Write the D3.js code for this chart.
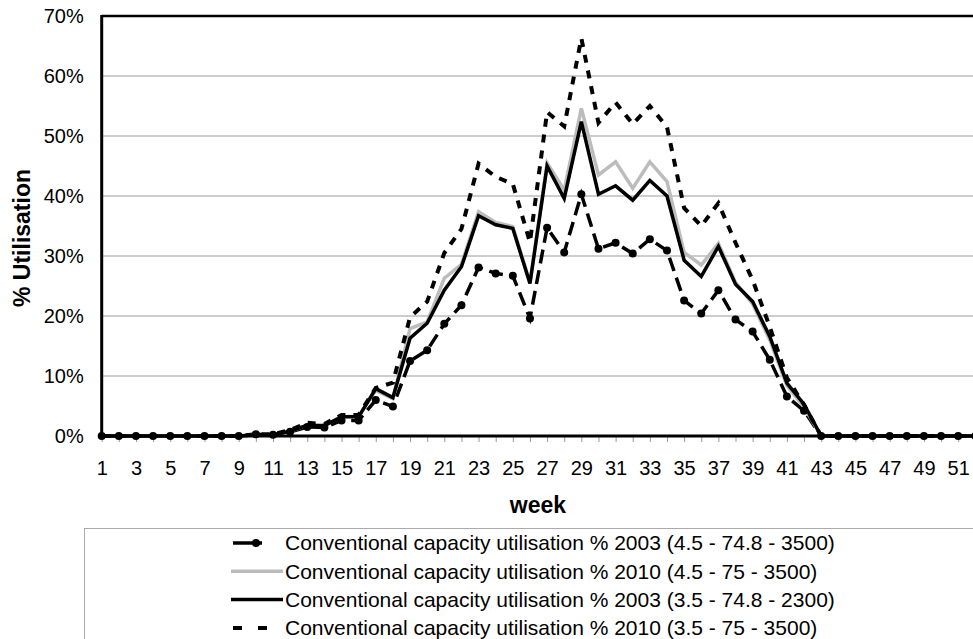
<!DOCTYPE html>
<html>
  <head>
    <style>
      body {
        margin: 0;
        background: #fff;
      }
      svg text {
        font-family: "Liberation Sans", Arial, sans-serif;
        fill: #000;
      }
    </style>
    <script src="https://cdn.jsdelivr.net/npm/d3@7"></script>
  </head>
  <body>
    <script>
      const weeks = [
        1, 2, 3, 4, 5, 6, 7, 8, 9, 10, 11, 12, 13, 14, 15, 16, 17, 18, 19, 20,
        21, 22, 23, 24, 25, 26, 27, 28, 29, 30, 31, 32, 33, 34, 35, 36, 37, 38,
        39, 40, 41, 42, 43, 44, 45, 46, 47, 48, 49, 50, 51, 52,
      ];
      const yTicks = [0, 10, 20, 30, 40, 50, 60, 70];

      // % utilisation per week
      const util2003a = [
        0, 0, 0, 0, 0, 0, 0, 0, 0, 0.3, 0.2, 0.7, 1.5, 1.4, 2.6, 2.6, 6.0, 4.9,
        12.5, 14.3, 18.7, 21.8, 28.1, 27.1, 26.7, 19.6, 34.7, 30.6, 40.3, 31.2,
        32.2, 30.4, 32.8, 30.9, 22.6, 20.4, 24.3, 19.4, 17.4, 12.7, 6.6, 4.2,
        0, 0, 0, 0, 0, 0, 0, 0, 0, 0,
      ];
      const util2010a = [
        0, 0, 0, 0, 0, 0, 0, 0, 0, 0.2, 0.2, 0.8, 1.8, 1.8, 3.2, 3.3, 7.6, 6.2,
        17.9, 19.0, 26.3, 28.6, 37.4, 35.6, 34.9, 25.6, 45.5, 41.0, 54.6, 43.5,
        45.7, 41.3, 45.7, 42.4, 30.6, 28.5, 32.1, 25.6, 22.0, 16.0, 8.4, 4.8,
        0, 0, 0, 0, 0, 0, 0, 0, 0, 0,
      ];
      const util2003b = [
        0, 0, 0, 0, 0, 0, 0, 0, 0, 0.2, 0.2, 0.8, 1.8, 1.7, 3.2, 3.2, 7.9, 6.4,
        16.3, 18.8, 24.3, 28.2, 36.7, 35.2, 34.6, 25.4, 45.0, 39.6, 52.4, 40.3,
        41.7, 39.3, 42.6, 40.0, 29.3, 26.6, 31.6, 25.3, 22.4, 16.6, 8.8, 5.3,
        0, 0, 0, 0, 0, 0, 0, 0, 0, 0,
      ];
      const util2010b = [
        0, 0, 0, 0, 0, 0, 0, 0, 0, 0.3, 0.3, 1.0, 2.2, 2.0, 3.5, 3.5, 8.0, 8.9,
        19.8, 22.4, 30.5, 34.5, 45.4, 43.2, 42.0, 32.3, 54.0, 51.6, 66.3, 52.2,
        55.6, 52.0, 55.0, 51.5, 38.0, 35.0, 38.8, 32.2, 26.0, 18.2, 9.7, 5.2,
        0, 0, 0, 0, 0, 0, 0, 0, 0, 0,
      ];

      const legendLabels = [
        "Conventional capacity utilisation % 2003 (4.5 - 74.8 - 3500)",
        "Conventional capacity utilisation % 2010 (4.5 - 75 - 3500)",
        "Conventional capacity utilisation % 2003 (3.5 - 74.8 - 2300)",
        "Conventional capacity utilisation % 2010 (3.5 - 75 - 3500)",
      ];

      const width = 973;
      const height = 639;
      const plotLeft = 101.7;
      const plotTop = 16;
      const plotBottom = 436;

      const svg = d3
        .select("body")
        .append("svg")
        .attr("width", width)
        .attr("height", height);

      const x = d3
        .scaleLinear()
        .domain([1, 52])
        .range([plotLeft, plotLeft + 51 * 17.13]);
      const y = d3.scaleLinear().domain([0, 70]).range([plotBottom, plotTop]);

      // gridlines
      svg
        .append("g")
        .selectAll("line")
        .data(yTicks.slice(1, -1))
        .enter()
        .append("line")
        .attr("x1", plotLeft)
        .attr("x2", width)
        .attr("y1", (d) => y(d))
        .attr("y2", (d) => y(d))
        .attr("stroke", "#9a9a9a")
        .attr("stroke-width", 1);

      // y axis
      const yAxis = d3
        .axisLeft(y)
        .tickValues(yTicks)
        .tickSize(0)
        .tickPadding(18)
        .tickFormat((d) => d + "%");
      svg
        .append("g")
        .attr("transform", "translate(" + plotLeft + ",0)")
        .call(yAxis)
        .call((g) => g.select(".domain").remove())
        .selectAll("text")
        .style("font-size", "20px");

      // x axis
      const xAxis = d3
        .axisBottom(x)
        .tickValues(weeks)
        .tickSize(6)
        .tickPadding(19)
        .tickFormat((d) => (d % 2 === 1 ? d : ""));
      const gx = svg
        .append("g")
        .attr("transform", "translate(0," + plotBottom + ")")
        .call(xAxis);
      gx.select(".domain").remove();
      gx.selectAll(".tick line").attr("stroke", "#999");
      gx.selectAll("text").style("font-size", "20px");

      // frame
      svg
        .append("line")
        .attr("x1", plotLeft)
        .attr("x2", width)
        .attr("y1", plotTop)
        .attr("y2", plotTop)
        .attr("stroke", "#000")
        .attr("stroke-width", 2.5);
      svg
        .append("line")
        .attr("x1", plotLeft)
        .attr("x2", plotLeft)
        .attr("y1", plotTop - 1)
        .attr("y2", plotBottom + 1)
        .attr("stroke", "#000")
        .attr("stroke-width", 3);

      const line = d3
        .line()
        .x((d, i) => x(weeks[i]))
        .y((d) => y(d));

      const series = [
        { values: util2003a, stroke: "#000", width: 3.5, dash: "14,7" },
        { values: util2010a, stroke: "#bcbcbc", width: 3.5, dash: null },
        { values: util2003b, stroke: "#000", width: 3.5, dash: null },
        { values: util2010b, stroke: "#000", width: 4, dash: "8,8" },
      ];

      series.forEach((s) => {
        svg
          .append("path")
          .datum(s.values)
          .attr("d", line)
          .attr("fill", "none")
          .attr("stroke", s.stroke)
          .attr("stroke-width", s.width)
          .attr("stroke-dasharray", s.dash);
      });

      // dots on the first series
      svg
        .append("g")
        .selectAll("circle")
        .data(util2003a)
        .enter()
        .append("circle")
        .attr("cx", (d, i) => x(weeks[i]))
        .attr("cy", (d) => y(d))
        .attr("r", 4)
        .attr("fill", "#000");

      // bottom axis line
      svg
        .append("line")
        .attr("x1", plotLeft)
        .attr("x2", width)
        .attr("y1", plotBottom)
        .attr("y2", plotBottom)
        .attr("stroke", "#000")
        .attr("stroke-width", 3);

      // axis titles
      svg
        .append("text")
        .attr("transform", "translate(30,238) rotate(-90)")
        .attr("text-anchor", "middle")
        .style("font-size", "23px")
        .style("font-weight", "bold")
        .text("% Utilisation");

      svg
        .append("text")
        .attr("x", 538)
        .attr("y", 513)
        .attr("text-anchor", "middle")
        .style("font-size", "23px")
        .style("font-weight", "bold")
        .text("week");

      // legend
      svg
        .append("rect")
        .attr("x", 84.5)
        .attr("y", 528.5)
        .attr("width", 1000)
        .attr("height", 200)
        .attr("fill", "none")
        .attr("stroke", "#aaa");

      const legend = svg
        .append("g")
        .selectAll("g")
        .data(legendLabels)
        .enter()
        .append("g")
        .attr("transform", (d, i) => "translate(0," + (543 + i * 28.3) + ")");

      legend
        .append("text")
        .attr("x", 285)
        .attr("dy", "0.35em")
        .style("font-size", "21px")
        .text((d) => d);

      legend
        .append("line")
        .attr("x1", (d, i) => (i === 0 || i === 3 ? 233 : 231))
        .attr("x2", (d, i) => (i === 0 ? 262 : i === 3 ? 267 : 283))
        .attr("stroke", (d, i) => series[i].stroke)
        .attr("stroke-width", (d, i) => series[i].width)
        .attr("stroke-dasharray", (d, i) => (i === 3 ? "9,16" : null));

      legend
        .filter((d, i) => i === 0)
        .append("circle")
        .attr("cx", 256)
        .attr("r", 4)
        .attr("fill", "#000");
    </script>
  </body>
</html>
